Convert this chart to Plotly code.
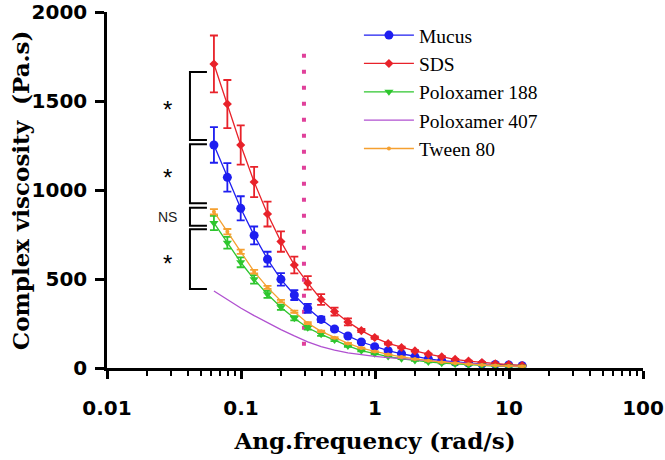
import plotly.graph_objects as go
import math

# ---------------- data ----------------
freq = [0.0628, 0.0791, 0.0995, 0.1253, 0.1577, 0.1986, 0.25, 0.3147, 0.3962, 0.4988,
        0.628, 0.7906, 0.9953, 1.253, 1.577, 1.986, 2.5, 3.147, 3.962, 4.988,
        6.28, 7.906, 9.953, 12.53]

mucus = [1253, 1071, 897, 745, 611, 498, 410, 335, 273, 219, 180, 146, 120, 97,
         80, 64, 51, 41, 34, 27, 22, 20, 17, 13]
mucus_err = [100, 80, 68, 50, 42, 35, 28, 25, 15, 8, 6, 5, 4, 3, 3, 2, 2, 2, 1, 1, 1, 1, 1, 1]

sds = [1708, 1483, 1253, 1045, 865, 710, 579, 478, 385, 317, 259, 210, 171, 138,
       115, 96, 78, 63, 49, 39, 31, 24, 19, 14]
sds_err = [160, 135, 110, 85, 70, 57, 47, 38, 30, 22, 20, 9, 7, 6, 5, 4, 3, 3, 2, 2, 2, 1, 1, 1]

p188 = [815, 704, 594, 498, 414, 341, 279, 226, 189, 157, 124, 97, 80, 64,
        52, 42, 34, 27, 22, 17, 14, 11, 9, 7]
p188_err = [40, 33, 28, 24, 20, 15, 12, 10, 8, 6, 5, 4, 3, 3, 2, 2, 2, 1, 1, 1, 1, 1, 1, 1]

p407 = [433, 384, 337, 294, 254, 216, 180, 147, 120, 100, 85, 74, 65, 58,
        52, 46, 40, 34, 28, 23, 18, 14, 11, 8]

tween = [878, 766, 653, 541, 453, 376, 316, 252, 206, 170, 138, 112, 93, 76,
         62, 50, 41, 33, 27, 21, 17, 14, 11, 9]
tween_err = [15, 15, 12, 10, 8, 7, 6, 5, 4, 3, 3, 2, 2, 2, 2, 1, 1, 1, 1, 1, 1, 1, 1, 1]

# vertical reference line (dotted)
ref_freq = 0.295
ref_span = [125, 1830]

# significance brackets: (low, high, label)
brackets = [(1281, 1663, "*"), (925, 1257, "*"), (799, 900, "NS"), (444, 779, "*")]

x_ticks = [0.01, 0.1, 1, 10, 100]
x_tick_text = ["0.01", "0.1", "1", "10", "100"]
y_ticks = [0, 500, 1000, 1500, 2000]

# ---------------- figure ----------------
fig = go.Figure()

fig.add_trace(go.Scatter(x=[ref_freq, ref_freq], y=ref_span, mode="lines",
                         line=dict(color="#e0409a", width=4, dash="4px,12px"),
                         showlegend=False, hoverinfo="skip"))

def add_series(name, y, err, color, symbol, size, mode="lines+markers"):
    fig.add_trace(go.Scatter(
        x=freq, y=y, name=name, mode=mode, legendgroup=name,
        line=dict(color=color, width=1.3),
        marker=dict(color=color, symbol=symbol, size=size, line=dict(width=0)),
        error_y=(dict(type="data", array=err, color=color, thickness=1.8, width=4)
                 if err is not None else None),
    ))

add_series("Mucus", mucus, mucus_err, "#1e1ef0", "circle", 9)
add_series("SDS", sds, sds_err, "#e8222a", "diamond", 7)
add_series("Poloxamer 188", p188, p188_err, "#2ec62e", "triangle-down", 8)
add_series("Poloxamer 407", p407, None, "#b050d0", "circle", 1, mode="lines")
add_series("Tween 80", tween, tween_err, "#f5a030", "circle", 4)

# brackets
arm_x = 0.0557
bar_x = 0.0416
star_x = math.log10(0.0285)
for lo, hi, lab in brackets:
    fig.add_trace(go.Scatter(x=[arm_x, bar_x, bar_x, arm_x], y=[hi, hi, lo, lo],
                             mode="lines", line=dict(color="black", width=2),
                             showlegend=False, hoverinfo="skip"))
    if lab == "*":
        fig.add_annotation(x=star_x, y=(lo + hi) / 2, text="*", showarrow=False,
                           yshift=-4,
                           font=dict(family="Liberation Sans", size=24, color="black"))
    else:
        fig.add_annotation(x=star_x, y=(lo + hi) / 2, text=lab, showarrow=False,
                           font=dict(family="Liberation Sans", size=14, color="#222"))

tick_font = dict(family="DejaVu Sans", size=20, color="black", weight="bold")
title_font = dict(family="DejaVu Serif", size=23, color="black", weight="bold")

# y-axis title as a rotated annotation for exact placement
fig.add_annotation(xref="paper", yref="paper", x=-0.162, y=0.5, xanchor="center",
                   yanchor="middle", textangle=-90, showarrow=False,
                   text="Complex viscosity  (Pa.s)", font=title_font)

fig.update_layout(
    width=665, height=460,
    margin=dict(l=107, r=22, t=12, b=92),
    plot_bgcolor="white", paper_bgcolor="white",
    legend=dict(x=0.47, y=0.989, xanchor="left", yanchor="top",
                font=dict(family="Liberation Serif", size=19.5, color="black"),
                bgcolor="rgba(0,0,0,0)", itemwidth=50, tracegroupgap=0,
                traceorder="normal"),
    xaxis=dict(type="log", range=[-2, 2], tickvals=x_ticks, ticktext=x_tick_text,
               automargin=False,
               showline=True, linecolor="black", linewidth=2.5,
               ticks="outside", ticklen=8, tickwidth=2.5, tickcolor="black",
               minor=dict(ticks="outside", ticklen=5, tickwidth=2, tickcolor="black",
                          dtick="D1", showgrid=False),
               tickfont=tick_font, showgrid=False, zeroline=False,
               ticklabelstandoff=12,
               title=dict(text="Ang.frequency (rad/s)", font=title_font, standoff=15)),
    yaxis=dict(range=[0, 2000], tickvals=y_ticks, automargin=False,
               showline=True, linecolor="black", linewidth=2.5,
               ticks="outside", ticklen=9, tickwidth=2.5, tickcolor="black",
               tickfont=tick_font, showgrid=False, zeroline=False,
               ticklabelstandoff=4),
)

fig.write_html("out.html",
               config={"displayModeBar": False},
               post_script="document.body.style.margin='0px';document.body.style.padding='0px';")
